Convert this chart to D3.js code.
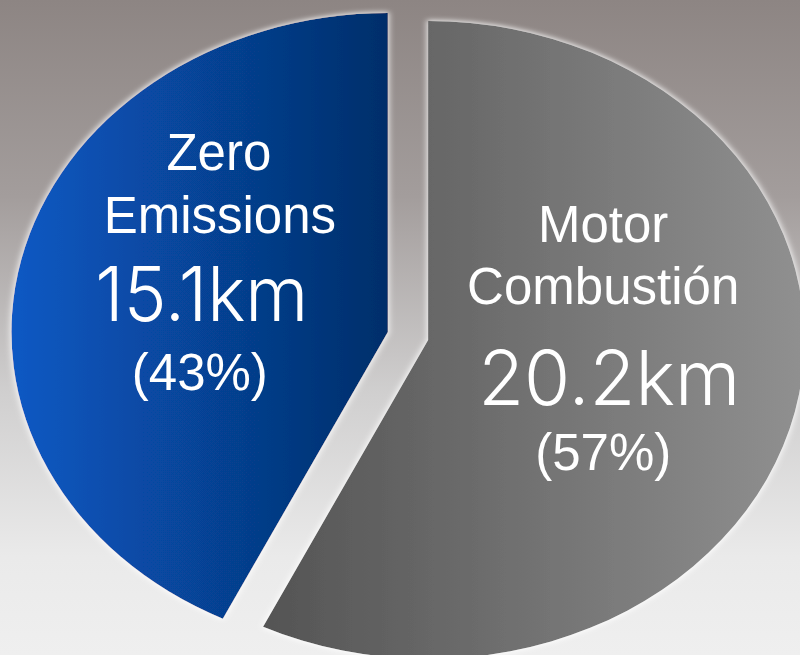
<!DOCTYPE html>
<html>
<head>
<meta charset="utf-8">
<script src="https://cdn.jsdelivr.net/npm/d3@7"></script>
<style>
  html, body { margin: 0; padding: 0; overflow: hidden; }
</style>
</head>
<body>
<div id="chart"></div>
<script>
// data
var categories = ["Zero Emissions", "Motor Combustión"];
var labelLines = [["Zero", "Emissions"], ["Motor", "Combustión"]];
var distances = [15.1, 20.2];   // km
var unit = "km";

var width = 800, height = 655;
var cx = 408, cy = 336;
var radius = 319;
var stretchX = 1.18;     // the picture is a bit wider than tall
var explode = 17.5;

var svg = d3.select("#chart").append("svg")
  .attr("width", width)
  .attr("height", height);

var defs = svg.append("defs");

// background, brownish grey at the top fading to light grey
var bg = defs.append("linearGradient").attr("id", "bg")
  .attr("x1", 0).attr("y1", 0).attr("x2", 0).attr("y2", 1);
[["0%", "#8d8583"], ["30%", "#a39d9c"], ["60%", "#d0cfcf"], ["85%", "#eaeaea"], ["100%", "#efefef"]]
  .forEach(function(s) { bg.append("stop").attr("offset", s[0]).attr("stop-color", s[1]); });

var fills = [
  ["#0859c4", "#052e6a"],
  ["#545454", "#909090"]
];
fills.forEach(function(f, i) {
  var g = defs.append("linearGradient").attr("id", "fill" + i)
    .attr("x1", 0).attr("y1", 0).attr("x2", 1).attr("y2", 0);
  g.append("stop").attr("offset", "0%").attr("stop-color", f[0]);
  g.append("stop").attr("offset", "100%").attr("stop-color", f[1]);
});

// soft white halo around the slices
var glow = defs.append("filter").attr("id", "glow")
  .attr("x", "-10%").attr("y", "-10%").attr("width", "120%").attr("height", "120%");
glow.append("feMorphology").attr("in", "SourceAlpha").attr("operator", "dilate").attr("radius", 1).attr("result", "d");
glow.append("feGaussianBlur").attr("in", "d").attr("stdDeviation", 2.5).attr("result", "b");
glow.append("feFlood").attr("flood-color", "#ffffff").attr("flood-opacity", 0.85);
glow.append("feComposite").attr("in2", "b").attr("operator", "in").attr("result", "w");
var merge = glow.append("feMerge");
merge.append("feMergeNode").attr("in", "w");
merge.append("feMergeNode").attr("in", "SourceGraphic");

svg.append("rect")
  .attr("width", width)
  .attr("height", height)
  .attr("fill", "url(#bg)");

var data = categories.map(function(c, i) {
  return { name: c, value: distances[i], lines: labelLines[i], idx: i };
});
var total = d3.sum(distances);

var start = -2 * Math.PI * distances[0] / total;
var pie = d3.pie()
  .value(function(d) { return d.value; })
  .sort(null)
  .startAngle(start)
  .endAngle(start + 2 * Math.PI);

var arc = d3.arc().innerRadius(0).outerRadius(radius);

var arcs = pie(data);

var chart = svg.append("g")
  .attr("transform", "translate(" + cx + "," + cy + ") scale(" + stretchX + ",1)");

function offset(d, r) {
  var a = (d.startAngle + d.endAngle) / 2;
  return [Math.sin(a) * r, -Math.cos(a) * r];
}

chart.selectAll(".slice")
  .data(arcs)
  .enter().append("path")
  .attr("class", "slice")
  .attr("transform", function(d) {
    var o = offset(d, explode);
    return "translate(" + o[0] + "," + o[1] + ")";
  })
  .attr("d", arc)
  .attr("fill", function(d) { return "url(#fill" + d.data.idx + ")"; })
  .attr("filter", "url(#glow)");

// labels, placed from the slice bisector
var labelR = 154;
var lineSpec = [
  // [dx, dy] per line: name1, name2, km, pct
  [[8, -127], [9, -64], [-9, 24], [-11, 93]],
  [[-2, -133], [-2, -71], [4, 30], [-2, 95]]
];
var kmWidth = [213, 262];

var labels = svg.selectAll(".label")
  .data(arcs)
  .enter().append("g")
  .attr("class", "label")
  .attr("transform", function(d) {
    var o = offset(d, explode + labelR);
    return "translate(" + (cx + o[0] * stretchX) + "," + (cy + o[1]) + ")";
  });

labels.each(function(d) {
  var g = d3.select(this);
  var spec = lineSpec[d.data.idx];
  var pct = Math.round(d.data.value / total * 100);
  d.data.lines.forEach(function(t, j) {
    g.append("text")
      .attr("x", spec[j][0]).attr("y", spec[j][1])
      .attr("text-anchor", "middle")
      .attr("fill", "#ffffff")
      .style("font-family", "'Liberation Sans', Arial, sans-serif")
      .style("font-size", "51px")
      .text(t);
  });
  g.append("text")
    .attr("x", spec[2][0]).attr("y", spec[2][1])
    .attr("text-anchor", "middle")
    .attr("fill", "#ffffff")
    .attr("textLength", kmWidth[d.data.idx])
    .attr("lengthAdjust", "spacingAndGlyphs")
    .style("font-family", "Inter, 'Noto Sans', sans-serif")
    .style("font-weight", 300)
    .style("font-size", "75px")
    .text(d.data.value.toFixed(1) + unit);
  g.append("text")
    .attr("x", spec[3][0]).attr("y", spec[3][1])
    .attr("text-anchor", "middle")
    .attr("fill", "#ffffff")
    .style("font-family", "'Liberation Sans', Arial, sans-serif")
    .style("font-size", "51px")
    .text("(" + pct + "%)");
});
</script>
</body>
</html>
